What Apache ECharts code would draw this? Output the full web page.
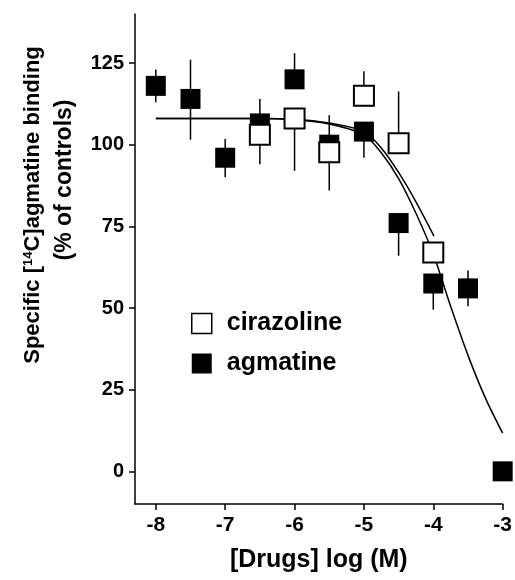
<!DOCTYPE html>
<html>
<head>
    <meta charset="utf-8">
    <title>agmatine binding</title>
    <script src="https://cdn.jsdelivr.net/npm/echarts@6/dist/echarts.min.js"></script>
    <style>
        html, body { margin: 0; padding: 0; background: #fff; }
        #chart { width: 515px; height: 580px; }
    </style>
</head>
<body>
<div id="chart"></div>
<script>
    // log [drug] (M) / % of controls
    var xAgm = [-8, -7.5, -7, -6.5, -6, -5.5, -5, -4.5, -4, -3.5, -3];
    var yAgm = [118, 114, 96, 106.5, 120, 100, 104, 76, 57.5, 56, 0];
    var agmLow = [113, 101.5, 90, 106.5, 120, 100, 96, 66, 49.5, 50.5, 0];
    var agmHigh = [123, 126, 101.7, 114, 128, 109, 104, 76, 57.5, 61.5, 0];

    var xCir = [-6.5, -6, -5.5, -5, -4.5, -4];
    var yCir = [103, 108, 97.7, 115, 100.4, 67];
    var cirLow = [94, 92, 86, 115, 100.4, 67];
    var cirHigh = [103, 108, 97.7, 122.5, 116.3, 67];

    // fitted curves, points
    var fitAgmX = [-8, -6.5, -6, -5.5, -5, -4.75, -4.5, -4.25, -4, -3.75, -3.5, -3.25, -3];
    var fitAgmY = [108, 108, 107.6, 106.3, 103, 97.5, 89.6, 79, 66.5, 50.5, 35.5, 22.5, 11.7];
    var fitCirX = [-8, -6.5, -6, -5.5, -5, -4.75, -4.5, -4.25, -3.99];
    var fitCirY = [108, 108, 107.8, 106.6, 104, 99, 91.5, 82.5, 72];

    var yTicks = [0, 25, 50, 75, 100, 125];
    var xTicks = [-8, -7, -6, -5, -4, -3];

    var font = "'Liberation Sans', Arial, sans-serif";

    function zip(a, b, c) {
        return a.map(function (v, i) { return c ? [v, b[i], c[i]] : [v, b[i]]; });
    }

    function errorBar(params, api) {
        var lo = api.coord([api.value(0), api.value(1)]);
        var hi = api.coord([api.value(0), api.value(2)]);
        return {
            type: 'line',
            shape: {x1: lo[0], y1: lo[1], x2: hi[0], y2: hi[1]},
            style: {stroke: '#000', lineWidth: 1.5}
        };
    }

    var myChart = echarts.init(document.getElementById('chart'));
    var option = {
        animation: false,
        grid: {left: 135, right: 10, top: 14, bottom: 76},
        legend: {
            orient: 'vertical',
            left: 186,
            top: 306,
            itemWidth: 20,
            itemHeight: 20,
            itemGap: 15,
            selectedMode: false,
            textStyle: {fontSize: 25, fontWeight: 'bold', fontFamily: font, color: '#000', padding: [0, 0, 0, 10]},
            data: [
                {name: 'cirazoline', icon: 'rect', itemStyle: {color: '#fff', borderColor: '#000', borderWidth: 1.5}},
                {name: 'agmatine', icon: 'rect', itemStyle: {color: '#000'}}
            ]
        },
        xAxis: {
            type: 'value',
            min: -8.3,
            max: -3,
            name: '[Drugs] log (M)',
            nameLocation: 'middle',
            nameGap: 44,
            nameTextStyle: {fontSize: 25, fontWeight: 'bold', fontFamily: font, color: '#000'},
            axisLine: {show: true, onZero: false, lineStyle: {color: '#000', width: 1.5}},
            axisTick: {show: true, length: 6, customValues: xTicks, lineStyle: {color: '#000', width: 1.5}},
            axisLabel: {customValues: xTicks, margin: 11, fontSize: 21, fontWeight: 'bold', fontFamily: font, color: '#000'},
            splitLine: {show: false}
        },
        yAxis: {
            type: 'value',
            min: -10,
            max: 140,
            axisLine: {show: true, onZero: false, lineStyle: {color: '#000', width: 1.5}},
            axisTick: {show: true, length: 6, customValues: yTicks, lineStyle: {color: '#000', width: 1.5}},
            axisLabel: {customValues: yTicks, margin: 11, fontSize: 20, fontWeight: 'bold', fontFamily: font, color: '#000'},
            splitLine: {show: false}
        },
        graphic: [
            {
                type: 'text',
                x: 33,
                y: 205,
                rotation: Math.PI / 2,
                style: {
                    text: '{a|Specific [}{s|14}{a|C]agmatine binding}',
                    align: 'center',
                    verticalAlign: 'middle',
                    rich: {
                        a: {fontSize: 22, fontWeight: 'bold', fontFamily: font, fill: '#000'},
                        s: {fontSize: 13, fontWeight: 'bold', fontFamily: font, fill: '#000', verticalAlign: 'top'}
                    }
                }
            },
            {
                type: 'text',
                x: 65,
                y: 180,
                rotation: Math.PI / 2,
                style: {
                    text: '(% of controls)',
                    align: 'center',
                    verticalAlign: 'middle',
                    fontSize: 23,
                    fontWeight: 'bold',
                    fontFamily: font,
                    fill: '#000'
                }
            }
        ],
        series: [
            {
                name: 'fit agmatine',
                type: 'line',
                data: zip(fitAgmX, fitAgmY),
                smooth: 0.3,
                showSymbol: false,
                lineStyle: {color: '#000', width: 1.5},
                z: 1,
                silent: true
            },
            {
                name: 'fit cirazoline',
                type: 'line',
                data: zip(fitCirX, fitCirY),
                smooth: 0.3,
                showSymbol: false,
                lineStyle: {color: '#000', width: 1.5},
                z: 1,
                silent: true
            },
            {
                type: 'custom',
                renderItem: errorBar,
                data: zip(xAgm, agmLow, agmHigh),
                encode: {x: 0, y: [1, 2]},
                z: 2,
                silent: true
            },
            {
                type: 'custom',
                renderItem: errorBar,
                data: zip(xCir, cirLow, cirHigh),
                encode: {x: 0, y: [1, 2]},
                z: 2,
                silent: true
            },
            {
                name: 'agmatine',
                type: 'scatter',
                symbol: 'rect',
                symbolSize: 20,
                data: zip(xAgm, yAgm),
                itemStyle: {color: '#000', opacity: 1},
                z: 3
            },
            {
                name: 'cirazoline',
                type: 'scatter',
                symbol: 'rect',
                symbolSize: 20,
                data: zip(xCir, yCir),
                itemStyle: {color: '#fff', borderColor: '#000', borderWidth: 2, opacity: 1},
                z: 4
            }
        ]
    };
    myChart.setOption(option);
</script>
</body>
</html>
